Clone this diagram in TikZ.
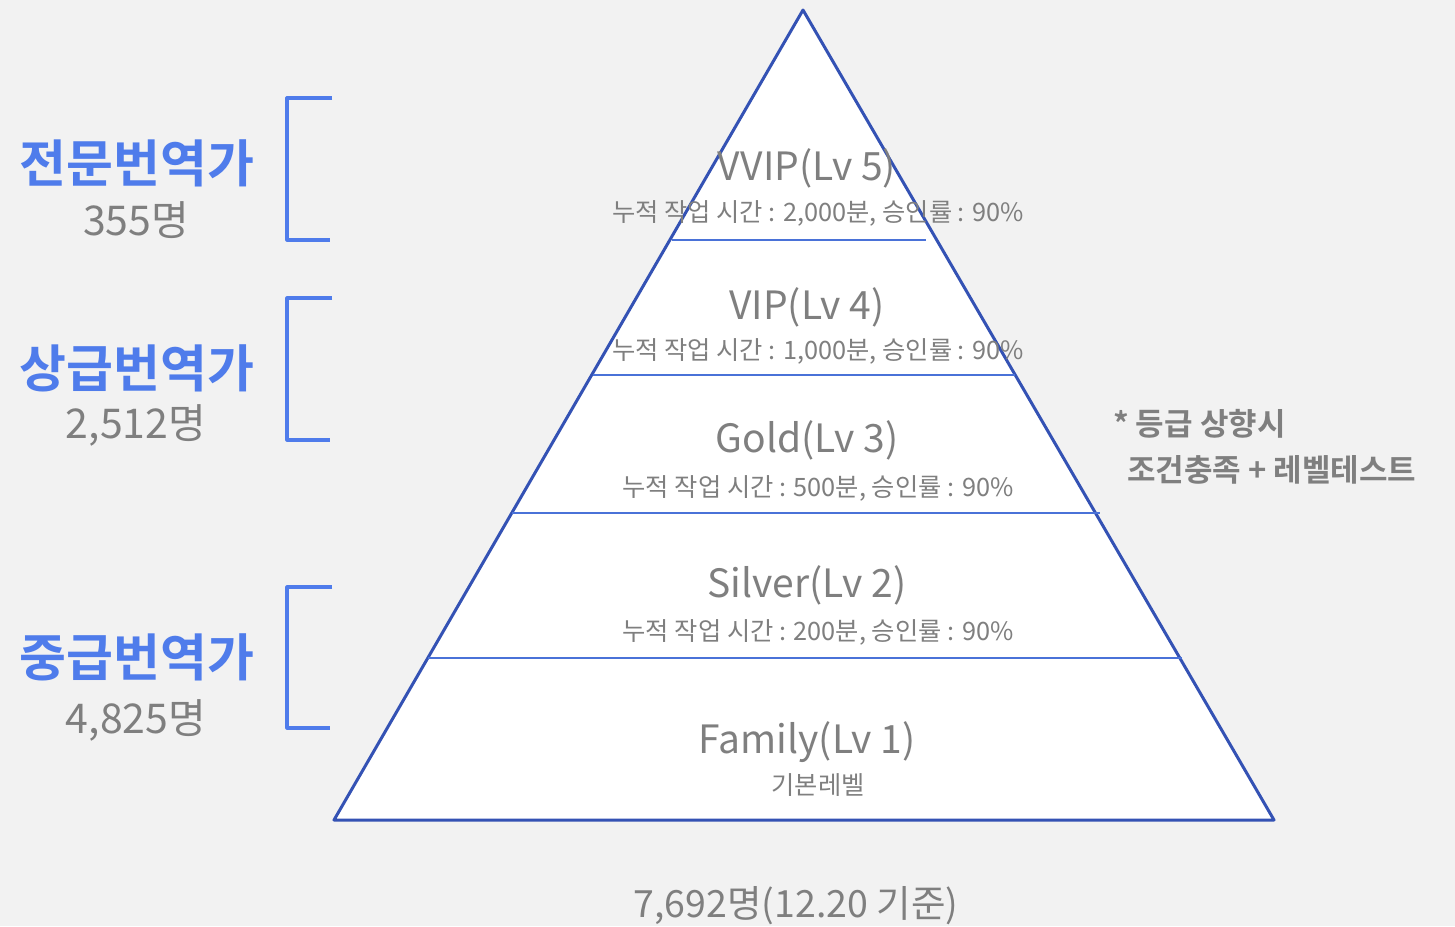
\documentclass[tikz,border=0pt]{standalone}
\usepackage{fontspec}
\setmainfont{Noto Sans CJK KR}[BoldFont={Noto Sans CJK KR Bold}]
\definecolor{bgc}{HTML}{F2F2F2}
\definecolor{edgeblue}{HTML}{3452B4}
\definecolor{lineblue}{HTML}{4A72D8}
\definecolor{labelblue}{HTML}{4F7CEB}
\definecolor{txtgray}{HTML}{7F7F7F}
\tikzset{
  lvtitle/.style={text=txtgray,inner sep=0pt,font=\fontsize{39}{41}\selectfont},
  lvnote/.style={text=txtgray,inner sep=0pt,font=\fontsize{25.3}{27}\selectfont},
  grade/.style={text=labelblue,inner sep=0pt,font=\fontsize{51}{53}\selectfont\bfseries},
  count/.style={text=txtgray,inner sep=0pt,font=\fontsize{41}{43}\selectfont},
  bracket/.style={draw=labelblue,line width=3.2pt},
  layer/.style={draw=lineblue,line width=1.4pt}
}
\begin{document}
\begin{tikzpicture}[x=1pt,y=-1pt,line join=round]
\fill[bgc] (0,0) rectangle (1455,926);
\useasboundingbox (0,0) rectangle (1455,926);
% pyramid
\filldraw[color=edgeblue,fill=white,line width=3pt](803,10)--(1274,820)--(334,820)--cycle;
\draw[layer](672,240)--(926,240);
\draw[layer](593,375)--(1015,375);
\draw[layer](512,513)--(1100,513);
\draw[layer](428,658)--(1182,658);
% levels
\node[lvtitle] (vvip) at (807,168) {VVIP(Lv 5)};
\node[lvnote] (vvipn) at (818,213) {누적 작업 시간 : 2,000분, 승인률 : 90\%};
\node[lvtitle] (vip) at (807,307) {VIP(Lv 4)};
\node[lvnote] (vipn) at (818,351) {누적 작업 시간 : 1,000분, 승인률 : 90\%};
\node[lvtitle] (gold) at (807,440) {Gold(Lv 3)};
\node[lvnote] (goldn) at (818,488) {누적 작업 시간 : 500분, 승인률 : 90\%};
\node[lvtitle] (silver) at (807,585) {Silver(Lv 2)};
\node[lvnote] (silvern) at (818,632) {누적 작업 시간 : 200분, 승인률 : 90\%};
\node[lvtitle] (family) at (807,742) {Family(Lv 1)};
\node[lvnote] (familyn) at (818,785) {기본레벨};
% groups
\draw[bracket](332,98)--(287,98)--(287,240)--(330,240);
\draw[bracket](332,298)--(287,298)--(287,440)--(330,440);
\draw[bracket](332,587)--(287,587)--(287,728)--(330,728);
\node[grade] (expert) at (137,163) {전문번역가};
\node[count] (expertc) at (136,220) {355명};
\node[grade] (senior) at (137,368) {상급번역가};
\node[count] (seniorc) at (136,425) {2,512명};
\node[grade] (middle) at (137,657) {중급번역가};
\node[count] (middlec) at (136,720) {4,825명};
% note
\node[text=txtgray,inner sep=0pt,anchor=west,align=left,font=\fontsize{31}{46}\selectfont\bfseries] (rule) at (1113,447) {* 등급 상향시\\\ \ 조건충족 + 레벨테스트};
\node[count,font=\fontsize{37.5}{40}\selectfont] (total) at (796,906) {7,692명(12.20 기준)};
\end{tikzpicture}
\end{document}
